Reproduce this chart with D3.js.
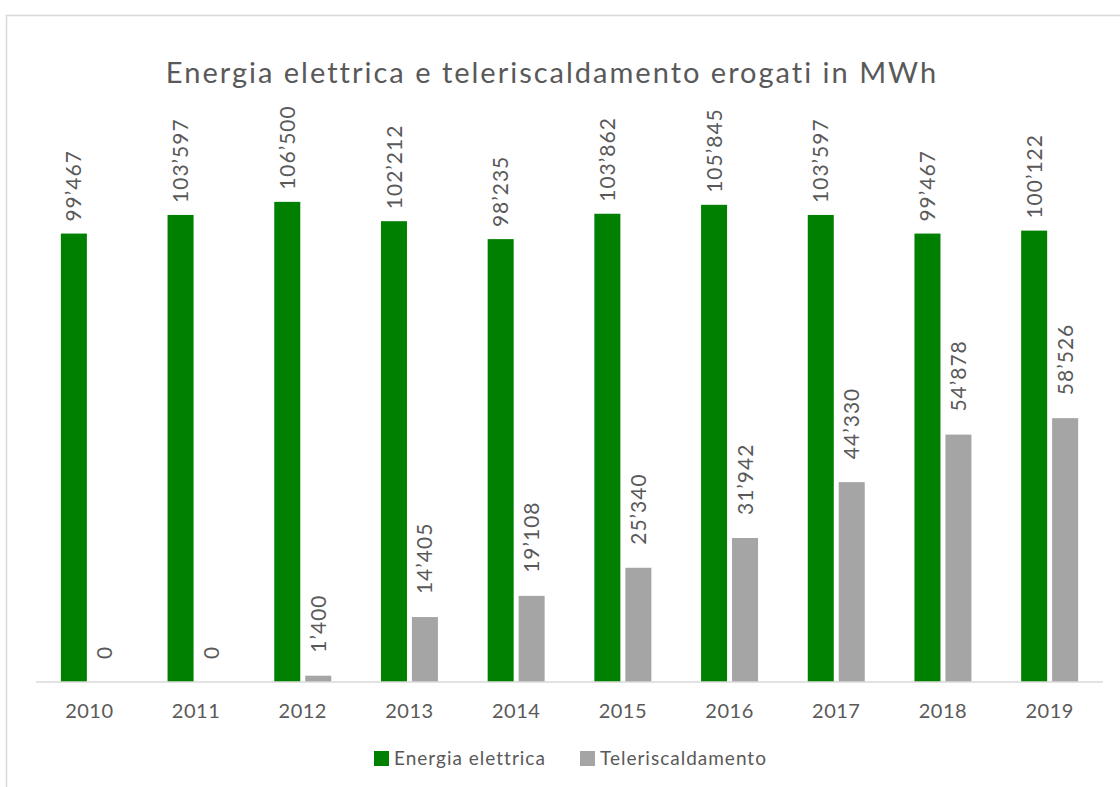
<!DOCTYPE html>
<html>
<head>
<meta charset="utf-8">
<script src="https://cdn.jsdelivr.net/npm/d3@7"></script>
<style>
  html, body { margin: 0; padding: 0; background: #fff; }
  svg { display: block; font-family: Lato, "Open Sans", sans-serif; }
</style>
</head>
<body>
<svg id="chart" width="1120" height="787"></svg>
<script>
const years = ["2010", "2011", "2012", "2013", "2014", "2015", "2016", "2017", "2018", "2019"];
const energia = [99467, 103597, 106500, 102212, 98235, 103862, 105845, 103597, 99467, 100122];
const teleriscaldamento = [0, 0, 1400, 14405, 19108, 25340, 31942, 44330, 54878, 58526];
const seriesNames = ["Energia elettrica", "Teleriscaldamento"];
const seriesColors = ["#008000", "#a5a5a5"];
const title = "Energia elettrica e teleriscaldamento erogati in MWh";

const svg = d3.select("#chart");
const textColor = "#595959";

// frame
svg.append("rect")
    .attr("x", 6.5).attr("y", 15.5)
    .attr("width", 1300).attr("height", 1000)
    .attr("fill", "none")
    .attr("stroke", "#d9d9d9")
    .attr("stroke-width", 1.5);

svg.append("text")
    .attr("x", 552).attr("y", 83)
    .attr("text-anchor", "middle")
    .attr("fill", textColor)
    .style("font-size", "29px")
    .style("letter-spacing", "2px")
    .text(title);

const x = d3.scaleBand()
    .domain(years)
    .range([36, 1103])
    .paddingInner(0.466)
    .paddingOuter(0.233);

const xs = d3.scaleBand()
    .domain(seriesNames)
    .range([0, x.bandwidth()])
    .paddingInner(0.16)
    .paddingOuter(0);

const y = d3.scaleLinear()
    .domain([0, 120000])
    .range([682, 141]);

const fmt = v => d3.format(",")(v).replace(/,/g, "\u2019");

const rows = years.map((yr, i) => ({
    year: yr,
    values: [
        { key: seriesNames[0], value: energia[i] },
        { key: seriesNames[1], value: teleriscaldamento[i] }
    ]
}));

const groups = svg.append("g")
    .selectAll("g")
    .data(rows)
    .join("g")
    .attr("transform", d => "translate(" + x(d.year) + ",0)");

groups.selectAll("rect")
    .data(d => d.values)
    .join("rect")
    .attr("x", d => xs(d.key))
    .attr("y", d => y(d.value))
    .attr("width", xs.bandwidth())
    .attr("height", d => y(0) - y(d.value))
    .attr("fill", (d, i) => seriesColors[i]);

// data labels, rotated
const labelGap = [12, 23];
groups.selectAll("text")
    .data(d => d.values)
    .join("text")
    .attr("transform", (d, i) => {
        const cx = xs(d.key) + xs.bandwidth() / 2;
        const cy = y(d.value) - labelGap[i];
        return "translate(" + cx + "," + cy + ") rotate(-90)";
    })
    .attr("dy", "0.36em")
    .attr("text-anchor", "start")
    .attr("fill", textColor)
    .style("font-size", "21px")
    .style("letter-spacing", "1px")
    .text(d => fmt(d.value));

// x axis (domain drawn by hand so it spans the plot only)
const xAxis = svg.append("g")
    .attr("transform", "translate(0," + y(0) + ")")
    .call(d3.axisBottom(x).tickSize(0).tickPadding(22));
xAxis.select(".domain").remove();
xAxis.append("line")
    .attr("x1", x.range()[0]).attr("x2", x.range()[1])
    .attr("stroke", "#d9d9d9").attr("stroke-width", 1.5);
xAxis.selectAll("text")
    .attr("fill", textColor)
    .style("font-size", "20px")
    .style("letter-spacing", "0.5px")
    .style("font-family", "Lato, 'Open Sans', sans-serif");

// legend
const legendX = [374, 580];
const legend = svg.append("g")
    .selectAll("g")
    .data(seriesNames)
    .join("g")
    .attr("transform", (d, i) => "translate(" + legendX[i] + ",751)");

legend.append("rect")
    .attr("width", 15).attr("height", 15)
    .attr("fill", (d, i) => seriesColors[i]);

legend.append("text")
    .attr("x", 20).attr("y", 14)
    .attr("fill", textColor)
    .style("font-size", "19px")
    .style("letter-spacing", "1px")
    .text(d => d);
</script>
</body>
</html>
